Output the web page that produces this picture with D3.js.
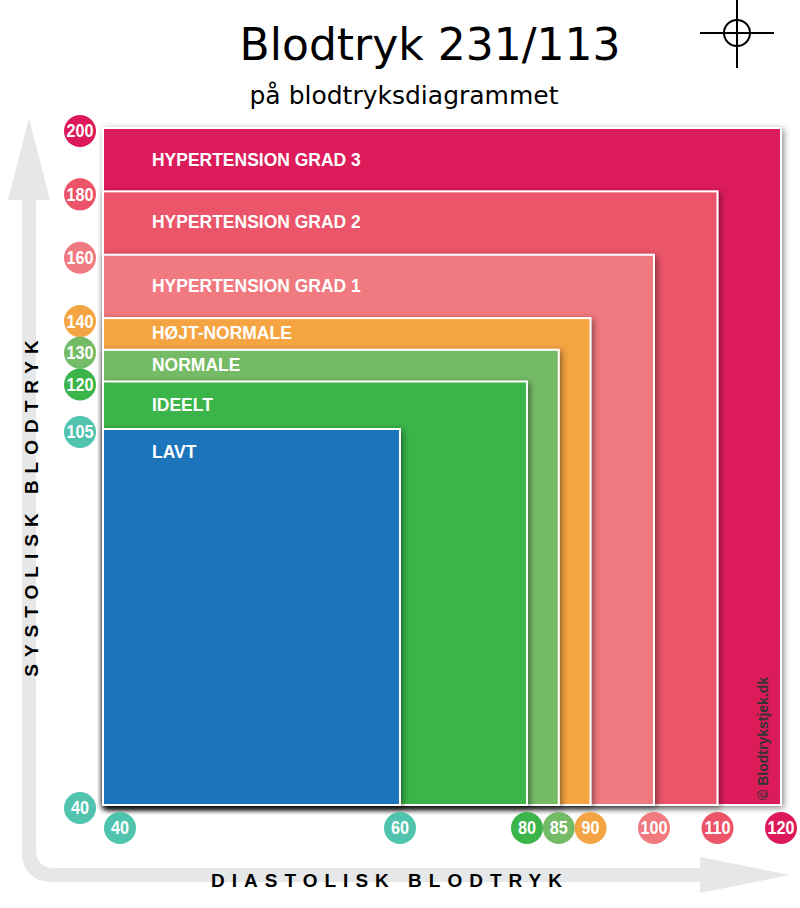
<!DOCTYPE html>
<html><head><meta charset="utf-8">
<script src="https://cdn.jsdelivr.net/npm/d3@7"></script>
<style>body{margin:0;background:#fff}</style>
</head><body><div id="chart"></div>
<script>
// zoner: navn, systolisk top, diastolisk grænse, farve
const zones = ["HYPERTENSION GRAD 3","HYPERTENSION GRAD 2","HYPERTENSION GRAD 1","HØJT-NORMALE","NORMALE","IDEELT","LAVT"];
const sysMax = [200,180,160,140,130,120,105];
const diaMax = [120,110,100,90,85,80,60];
const colors = ["#dc1a5a","#eb5469","#f07a80","#f5a443","#74bb65","#3bb44a","#1b74bb"];
const yTicks = [200,180,160,140,130,120,105,40];
const yTickColors = ["#dc1a5a","#eb5469","#f07a80","#f5a443","#74bb65","#3bb44a","#4fc3ad","#4fc3ad"];
const xTicks = [40,60,80,85,90,100,110,120];
const xTickColors = ["#4fc3ad","#4fc3ad","#3bb44a","#74bb65","#f5a443","#f07a80","#eb5469","#dc1a5a"];

const W = 800, H = 908;
const svg = d3.select("#chart").append("svg").attr("width",W).attr("height",H)
  .style("font-family","Liberation Sans, Arial, sans-serif");

// stykvise skalaer som i originalen
const x = d3.scaleLinear().domain([40,60,120]).range([103,400,781]);
const y = d3.scaleLinear().domain([40,105,200]).range([805,429,128]);

const defs = svg.append("defs");
const f = defs.append("filter").attr("id","sh").attr("x","-10%").attr("y","-10%").attr("width","130%").attr("height","130%");
f.append("feDropShadow").attr("dx",2).attr("dy",2).attr("stdDeviation",3).attr("flood-color","#000").attr("flood-opacity",0.45);

// grå akse-pile
const ax = svg.append("g").attr("fill","#e6e7e8");
ax.append("path").attr("d","M22,200 L22,850 Q22,882 54,882 L700,882 L700,868 L54,868 Q36,868 36,850 L36,200 Z");
ax.append("path").attr("d","M8,200 L29,118 L50,200 Z");
ax.append("path").attr("d","M700,857 L790,875 L700,893 Z");
ax.append("path").attr("d","M22,200 h14 v650 q0,18 18,18 h646 v14 h-646 q-32,0 -32,-32 z").attr("fill","#e6e7e8");

// zoner
zones.forEach((z,i) => {
  svg.append("rect")
    .attr("x",x(40)).attr("y",y(sysMax[i]))
    .attr("width",x(diaMax[i])-x(40)).attr("height",y(40)-y(sysMax[i]))
    .attr("fill",colors[i]).attr("stroke","#fff").attr("stroke-width",2)
    .attr("filter","url(#sh)");
});
const labelDy = [38,37,37,21,21,30,29];
zones.forEach((z,i) => {
  svg.append("text").attr("x",152).attr("y",y(sysMax[i])+labelDy[i])
    .attr("fill","#fff").attr("font-weight","bold").attr("font-size",19)
    .attr("transform",`scale(0.92,1)`).attr("x",152/0.92)
    .text(z);
});

// copyright
svg.append("text").attr("transform","translate(768,800) rotate(-90)")
  .attr("font-size",14).attr("font-weight","bold").attr("fill","#333").text("© Blodtrykstjek.dk");

// y-cirkler
yTicks.forEach((t,i) => {
  const g = svg.append("g").attr("transform",`translate(80,${y(t)+3})`);
  g.append("circle").attr("r",16).attr("fill",yTickColors[i]);
  g.append("text").attr("text-anchor","middle").attr("dy","0.36em").attr("fill","#fff")
    .attr("font-weight","bold").attr("font-size",18).attr("transform","scale(0.9,1)").text(t);
});
// x-cirkler
xTicks.forEach((t,i) => {
  const g = svg.append("g").attr("transform",`translate(${t===40?120:x(t)},828)`);
  g.append("circle").attr("r",16).attr("fill",xTickColors[i]);
  g.append("text").attr("text-anchor","middle").attr("dy","0.36em").attr("fill","#fff")
    .attr("font-weight","bold").attr("font-size",18).attr("transform","scale(0.9,1)").text(t);
});

// akse-titler
svg.append("text").attr("x",390).attr("y",887).attr("text-anchor","middle")
  .attr("font-weight","bold").attr("font-size",19).attr("letter-spacing","7px").text("DIASTOLISK BLODTRYK");
svg.append("text").attr("transform","translate(38,505) rotate(-90)").attr("text-anchor","middle")
  .attr("font-weight","bold").attr("font-size",19).attr("letter-spacing","7px").text("SYSTOLISK BLODTRYK");

// titel
svg.append("text").attr("x",430).attr("y",60).attr("text-anchor","middle")
  .attr("font-family","DejaVu Sans, sans-serif").attr("font-size",44).text("Blodtryk 231/113");
svg.append("text").attr("x",404).attr("y",104).attr("text-anchor","middle")
  .attr("font-family","DejaVu Sans, sans-serif").attr("font-size",25).text("på blodtryksdiagrammet");

// markør
const m = svg.append("g").attr("stroke","#000").attr("stroke-width",2).attr("fill","none");
m.append("line").attr("x1",700).attr("x2",774).attr("y1",33).attr("y2",33);
m.append("line").attr("x1",737).attr("x2",737).attr("y1",0).attr("y2",68);
m.append("circle").attr("cx",737).attr("cy",33).attr("r",13);
</script></body></html>
